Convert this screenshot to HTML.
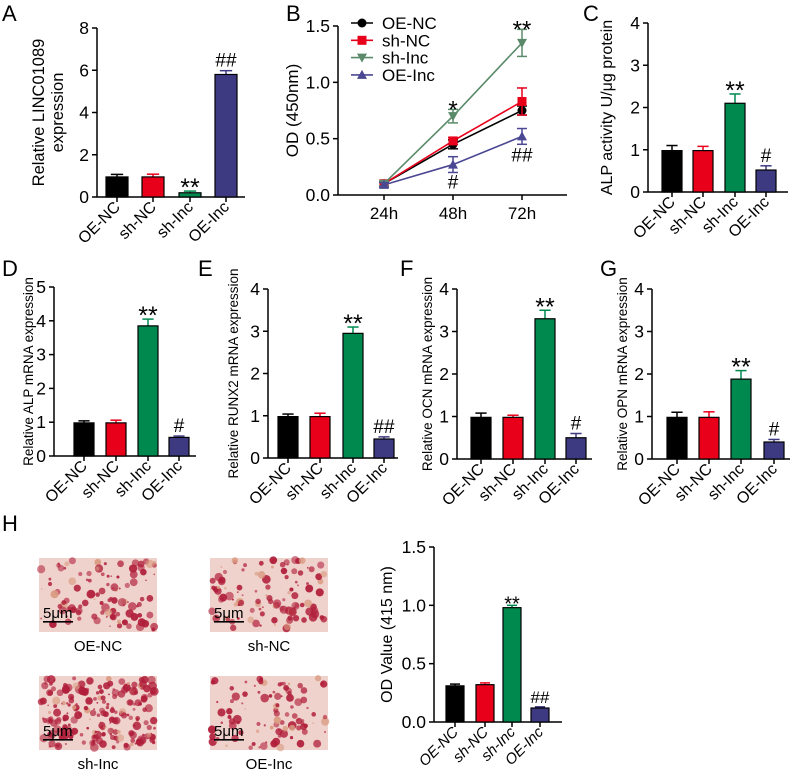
<!DOCTYPE html>
<html><head><meta charset="utf-8">
<style>
body{margin:0;background:#fff;}
svg{display:block;font-family:"Liberation Sans",Arial,sans-serif;}
</style></head>
<body>
<svg id="fig" width="797" height="776" viewBox="0 0 797 776"></svg>
<script>
const groups = ["OE-NC","sh-NC","sh-Inc","OE-Inc"];
const colors = ["#000000","#e8001b","#00894f","#3d3a82"];
// Panel values
const valsA = [0.95, 0.95, 0.2, 5.8];   const errA = [0.12, 0.13, 0.08, 0.18];
const valsC = [0.98, 0.98, 2.1, 0.52];  const errC = [0.12, 0.1, 0.22, 0.1];
const valsD = [0.98, 0.98, 3.85, 0.55]; const errD = [0.06, 0.08, 0.2, 0.04];
const valsE = [0.98, 0.98, 2.95, 0.45]; const errE = [0.06, 0.08, 0.15, 0.05];
const valsF = [0.98, 0.98, 3.3, 0.5];   const errF = [0.1, 0.05, 0.2, 0.1];
const valsG = [0.98, 0.98, 1.88, 0.4];  const errG = [0.12, 0.13, 0.2, 0.06];
const valsH = [0.31, 0.32, 0.98, 0.12]; const errH = [0.015, 0.015, 0.02, 0.01];
const sigA = ["", "", "**", "##"];
const sigC = ["", "", "**", "#"];
const sigD = ["", "", "**", "#"];
const sigE = ["", "", "**", "##"];
const sigF = ["", "", "**", "#"];
const sigG = ["", "", "**", "#"];
const sigH = ["", "", "**", "##"];
// Panel B line data
const timeLabels = ["24h","48h","72h"];
const lineOENC = [0.1, 0.45, 0.75];  const eOENC = [0.02, 0.04, 0.04];
const lineShNC = [0.1, 0.48, 0.83];  const eShNC = [0.02, 0.03, 0.12];
const lineShInc = [0.1, 0.7, 1.35];  const eShInc = [0.02, 0.06, 0.12];
const lineOEInc = [0.09, 0.27, 0.52]; const eOEInc = [0.02, 0.07, 0.07];

const NS="http://www.w3.org/2000/svg";
const svg=document.getElementById('fig');
function el(tag,attrs,parent,text){const e=document.createElementNS(NS,tag);for(const k in attrs)e.setAttribute(k,attrs[k]);if(text!==undefined)e.textContent=text;(parent||svg).appendChild(e);return e;}

function barPanel(o){
  const g=el('g',{});
  
  
  const y=v=>o.y0-(v/o.max)*(o.y0-o.yTop);
  const ax=el('line',{x1:o.ax,y1:o.yTop,x2:o.ax,y2:o.y0,stroke:'#000','stroke-width':1.5},g);
  
  o.ticks.forEach((t,i)=>{
    const yy=y(t);
    el('line',{x1:o.ax-5,y1:yy,x2:o.ax,y2:yy,stroke:'#000','stroke-width':1.5},g);
    const tl=el('text',{x:o.ax-8,y:yy+6,'text-anchor':'end','font-size':17.5},g,o.tickLabels[i]);
    
  });
  const xa=el('line',{x1:o.ax,y1:o.y0,x2:o.xEnd,y2:o.y0,stroke:'#000','stroke-width':1.5},g);
  
  o.vals.forEach((v,i)=>{
    const cx=o.cx[i],w=o.bw;
    const top=y(v+o.err[i]);
    el('line',{x1:cx,y1:top,x2:cx,y2:y(v),stroke:colors[i],'stroke-width':1.5},g);
    el('line',{x1:cx-w*0.28,y1:top,x2:cx+w*0.28,y2:top,stroke:colors[i],'stroke-width':1.5},g);
    const b=el('rect',{x:cx-w/2,y:y(v),width:w,height:o.y0-y(v),fill:colors[i],stroke:'#000','stroke-width':1.2},g);
    
    el('line',{x1:cx,y1:o.y0,x2:cx,y2:o.y0+5,stroke:'#000','stroke-width':1.5},g);
    const lx=cx+4,ly=o.y0+11;
    const t=el('text',{x:lx,y:ly,'text-anchor':'end','font-size':o.xfs||16,transform:`rotate(-45 ${lx} ${ly})`,'font-style':o.italic?'italic':'normal'},g,groups[i]);
    
    if(o.sig[i]){const star=o.sig[i][0]=='*';const s=el('text',{x:cx,y:top-4+(star?9:0),'text-anchor':'middle','font-size':star?(o.starfs||25):(o.hashfs||19)},g,o.sig[i]);
      }
  });
  const yl=el('text',{x:0,y:0,'text-anchor':'middle','font-size':o.ylfs||15,transform:`translate(${o.ylx} ${(o.y0+o.yTop)/2}) rotate(-90)`},g);
  
  o.ylabel.forEach((s,i)=>el('tspan',{x:0,dy:i?19:0},yl,s));
  const L=el('text',{x:o.lx,y:o.ly,'font-size':22},g,o.letter);
  
}

barPanel({name:'panel-a',letter:'A',lx:2,ly:21,ax:97,yTop:28,y0:197,xEnd:245,max:8,ticks:[0,2,4,6,8],tickLabels:['0','2','4','6','8'],
  vals:valsA,err:errA,sig:sigA,cx:[117,153,190,226],bw:22,ylx:44,ylabel:['Relative LINC01089','expression'],ylfs:16.5});
barPanel({name:'panel-c',letter:'C',lx:583,ly:21,ax:648,yTop:23,y0:192,xEnd:788,max:4,ticks:[0,1,2,3,4],tickLabels:['0','1','2','3','4'],
  vals:valsC,err:errC,sig:sigC,cx:[672,703,735,766],bw:20,ylx:612,ylabel:['ALP activity U/μg protein'],ylfs:16});
barPanel({name:'panel-d',letter:'D',lx:2,ly:276,ax:54,yTop:287,y0:456,xEnd:196,max:5,ticks:[0,1,2,3,4,5],tickLabels:['0','1','2','3','4','5'],
  vals:valsD,err:errD,sig:sigD,cx:[84,116,148,179],bw:20,ylx:33,ylabel:['Relative ALP mRNA expression'],ylfs:13.5});
barPanel({name:'panel-e',letter:'E',lx:198,ly:276,ax:268,yTop:289,y0:458,xEnd:398,max:4,ticks:[0,1,2,3,4],tickLabels:['0','1','2','3','4'],
  vals:valsE,err:errE,sig:sigE,cx:[288,320,353,384],bw:20,ylx:238,ylabel:['Relative RUNX2 mRNA expression'],ylfs:13.5});
barPanel({name:'panel-f',letter:'F',lx:400,ly:276,ax:457,yTop:289,y0:459,xEnd:592,max:4,ticks:[0,1,2,3,4],tickLabels:['0','1','2','3','4'],
  vals:valsF,err:errF,sig:sigF,cx:[481,513,545,576],bw:20,ylx:432,ylabel:['Relative OCN mRNA expression'],ylfs:13.5});
barPanel({name:'panel-g',letter:'G',lx:600,ly:276,ax:652,yTop:289,y0:459,xEnd:790,max:4,ticks:[0,1,2,3,4],tickLabels:['0','1','2','3','4'],
  vals:valsG,err:errG,sig:sigG,cx:[677,709,741,774],bw:20,ylx:627,ylabel:['Relative OPN mRNA expression'],ylfs:13.5});
barPanel({name:'panel-h-chart',letter:'H',lx:2,ly:531,ax:434,yTop:547,y0:722,xEnd:562,max:1.5,ticks:[0,0.5,1,1.5],tickLabels:['0.0','0.5','1.0','1.5'],
  vals:valsH,err:errH,sig:sigH,cx:[455,485,512,540],bw:18,ylx:392,ylabel:['OD Value (415 nm)'],ylfs:16,xfs:15,italic:true,starfs:20,hashfs:17});

// Panel B
(function(){
  const g=el('g',{});
  
  
  const ax=338,yTop=26,y0=195,xEnd=567,max=1.5;
  const xs=[384,453,522];
  const y=v=>y0-(v/max)*(y0-yTop);
  el('line',{x1:ax,y1:yTop,x2:ax,y2:y0,stroke:'#000','stroke-width':1.5},g);
  el('line',{x1:ax,y1:y0,x2:xEnd,y2:y0,stroke:'#000','stroke-width':1.5},g);
  [0,0.5,1,1.5].forEach((t,i)=>{const yy=y(t);el('line',{x1:ax-5,y1:yy,x2:ax,y2:yy,stroke:'#000','stroke-width':1.5},g);
    const tl=el('text',{x:ax-8,y:yy+6,'text-anchor':'end','font-size':17.5},g,['0.0','0.5','1.0','1.5'][i]);
    });
  timeLabels.forEach((s,i)=>{el('line',{x1:xs[i],y1:y0,x2:xs[i],y2:y0+5,stroke:'#000','stroke-width':1.5},g);
    const t=el('text',{x:xs[i],y:y0+24,'text-anchor':'middle','font-size':17},g,s);
    });
  const yl=el('text',{x:0,y:0,'text-anchor':'middle','font-size':17,transform:`translate(${298} ${(y0+yTop)/2}) rotate(-90)`},g,'OD (450nm)');
  
  const L=el('text',{x:286,y:21,'font-size':22},g,'B');
  
  const series=[[lineOENC,eOENC,'#000','circle','OE-NC'],[lineShNC,eShNC,'#e8001b','square','sh-NC'],[lineShInc,eShInc,'#5a8a6a','down','sh-Inc'],[lineOEInc,eOEInc,'#4b4893','up','OE-Inc']];
  function marker(x,yy,shape,c,parent){
    if(shape=='circle')return el('circle',{cx:x,cy:yy,r:4.5,fill:c},parent);
    if(shape=='square')return el('rect',{x:x-4.5,y:yy-4.5,width:9,height:9,fill:c},parent);
    if(shape=='down')return el('polygon',{points:`${x-5},${yy-4} ${x+5},${yy-4} ${x},${yy+5}`,fill:c},parent);
    return el('polygon',{points:`${x-5},${yy+4} ${x+5},${yy+4} ${x},${yy-5}`,fill:c},parent);
  }
  series.forEach((s,k)=>{
    const sg=el('g',{},g);
    
    
    el('polyline',{points:s[0].map((v,i)=>xs[i]+','+y(v)).join(' '),fill:'none',stroke:s[2],'stroke-width':1.6},sg);
    s[0].forEach((v,i)=>{
      const t=y(v+s[1][i]),b=y(v-s[1][i]);
      el('line',{x1:xs[i],y1:t,x2:xs[i],y2:b,stroke:s[2],'stroke-width':1.5},sg);
      el('line',{x1:xs[i]-5,y1:t,x2:xs[i]+5,y2:t,stroke:s[2],'stroke-width':1.5},sg);
      el('line',{x1:xs[i]-5,y1:b,x2:xs[i]+5,y2:b,stroke:s[2],'stroke-width':1.5},sg);
      const m=marker(xs[i],y(v),s[3],s[2],sg);
      
    });
    const ly=23+k*17.3;
    const lg=el('g',{},g);
    
    
    el('line',{x1:351,y1:ly,x2:373,y2:ly,stroke:s[2],'stroke-width':1.6},lg);
    marker(362,ly,s[3],s[2],lg);
    el('text',{x:382,y:ly+6,'font-size':17},lg,s[4]);
  });
  const ann=[[453,y(0.76)+8,'*',24],[522,y(1.47)+8,'**',24],[453,y(0.1)+5,'#',19],[522,y(0.34)+5,'##',19]];
  ann.forEach(a=>{const t=el('text',{x:a[0],y:a[1],'text-anchor':'middle','font-size':a[3]},g,a[2]);
    });
})();

// Panel H images (stained micrographs)
(function(){
  let seed=7;function rnd(){seed=(seed*16807)%2147483647;return seed/2147483647;}
  const imgs=[[39,558,'OE-NC',110],[210,558,'sh-NC',110],[39,676,'sh-Inc',220],[210,676,'OE-Inc',100]];
  imgs.forEach(im=>{
    const g=el('g',{});
    
    
    const W=118,H=74;
    el('rect',{x:im[0],y:im[1],width:W,height:H,fill:'#f0d2cc'},g);
    for(let i=0;i<im[3];i++){
      const r=0.8+rnd()*3.6;
      el('circle',{cx:im[0]+2+rnd()*(W-4),cy:im[1]+2+rnd()*(H-4),r:r,fill:rnd()>0.15?'#b01e3a':'#d99a80',opacity:0.55+rnd()*0.4},g);
    }
    el('rect',{x:im[0]+4,y:im[1]+H-11,width:30,height:1.6,fill:'#000'},g);
    el('text',{x:im[0]+4,y:im[1]+H-14,'font-size':15},g,'5μm');
    const t=el('text',{x:im[0]+W/2,y:im[1]+H+19,'text-anchor':'middle','font-size':15},g,im[2]);
    
  });
})();
</script>
</body></html>
